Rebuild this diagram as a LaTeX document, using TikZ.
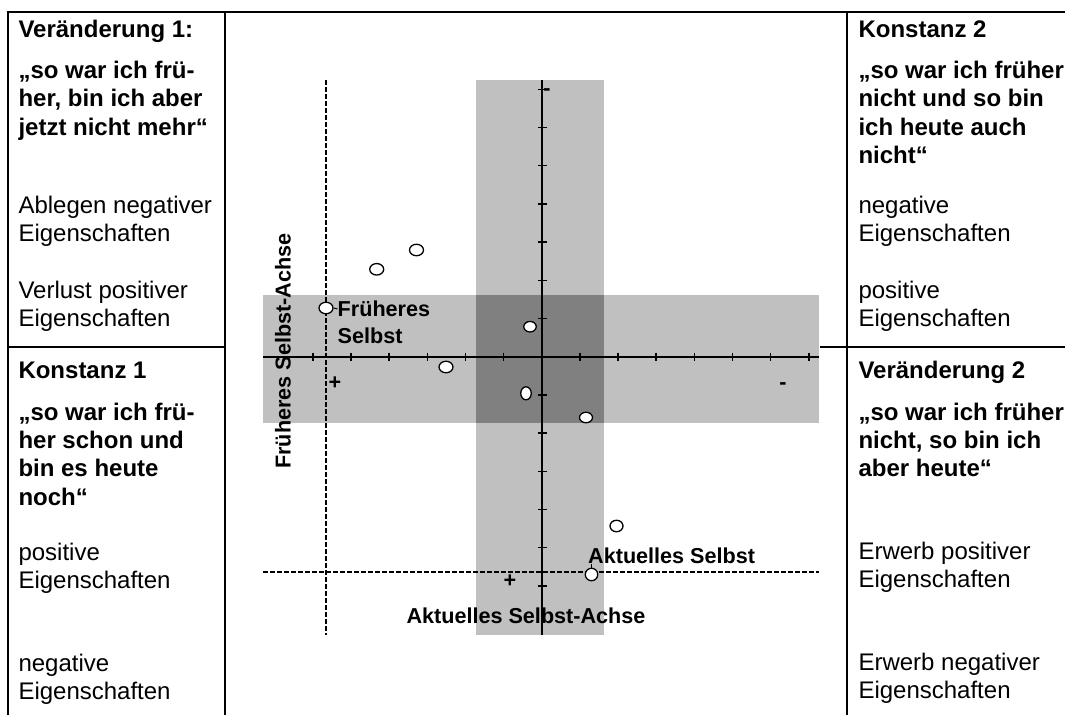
\documentclass[tikz,border=0pt]{standalone}
\usepackage{fontspec}
\setmainfont{Liberation Sans}
\usetikzlibrary{shapes.geometric}
\definecolor{lgray}{HTML}{C0C0C0}
\definecolor{dgray}{HTML}{808080}
\begin{document}
\begin{tikzpicture}[x=1pt,y=-1pt,
  sideb/.style={font=\fontsize{24}{28}\selectfont\bfseries, anchor=base west, inner sep=0pt},
  sider/.style={font=\fontsize{24}{28}\selectfont, anchor=base west, inner sep=0pt},
  lab/.style={font=\fontsize{21.6}{26}\selectfont\bfseries, inner sep=0pt},
  tablerule/.style={line width=2pt},
  axisline/.style={line width=2pt},
  tickline/.style={line width=1.5pt},
  dashline/.style={line width=1.2pt, dash pattern=on 4.5pt off 2.5pt},
  pt/.style={ellipse, draw, fill=white, line width=1.3pt, minimum width=14pt, minimum height=11.5pt, inner sep=0pt},
  ptv/.style={pt, minimum width=10.5pt, minimum height=13pt},
  conn/.style={line width=1pt}
]
\useasboundingbox (0,0) rectangle (1065,715);
% table
\draw[tablerule] (8,715) -- (8,12) -- (1065,12);
\draw[tablerule] (225,12) -- (225,715);
\draw[tablerule] (847,12) -- (847,715);
\draw[tablerule] (8,347) -- (225,347);
\draw[tablerule] (820,347) -- (1065,347);
% left column
\node[sideb] (l1) at (18.3,37) {Veränderung 1:};
\node[sideb] (l2) at (18.3,78.5) {„so war ich frü-};
\node[sideb] (l3) at (18.3,106.8) {her, bin ich aber};
\node[sideb] (l4) at (18.3,135) {jetzt nicht mehr“};
\node[sider] (l5) at (18.3,213.3) {Ablegen negativer};
\node[sider] (l6) at (18.3,241.7) {Eigenschaften};
\node[sider] (l7) at (18.3,298.3) {Verlust positiver};
\node[sider] (l8) at (18.3,326.7) {Eigenschaften};
\node[sideb] (m1) at (18.3,378) {Konstanz 1};
\node[sideb] (m2) at (18.3,420) {„so war ich frü-};
\node[sideb] (m3) at (18.3,448.3) {her schon und};
\node[sideb] (m4) at (18.3,476.6) {bin es heute};
\node[sideb] (m5) at (18.3,505) {noch“};
\node[sider] (m6) at (18.3,560) {positive};
\node[sider] (m7) at (18.3,588.5) {Eigenschaften};
\node[sider] (m8) at (18.3,671) {negative};
\node[sider] (m9) at (18.3,699.3) {Eigenschaften};
% right column
\node[sideb] (r1) at (858.3,37) {Konstanz 2};
\node[sideb] (r2) at (858.3,78.5) {„so war ich früher};
\node[sideb] (r3) at (858.3,106.8) {nicht und so bin};
\node[sideb] (r4) at (858.3,135) {ich heute auch};
\node[sideb] (r5) at (858.3,163.3) {nicht“};
\node[sider] (r6) at (858.3,213.3) {negative};
\node[sider] (r7) at (858.3,241.7) {Eigenschaften};
\node[sider] (r8) at (858.3,298.3) {positive};
\node[sider] (r9) at (858.3,326.7) {Eigenschaften};
\node[sideb] (s1) at (858.3,378) {Veränderung 2};
\node[sideb] (s2) at (858.3,420) {„so war ich früher};
\node[sideb] (s3) at (858.3,448.3) {nicht, so bin ich};
\node[sideb] (s4) at (858.3,476.6) {aber heute“};
\node[sider] (s5) at (858.3,559) {Erwerb positiver};
\node[sider] (s6) at (858.3,587.5) {Eigenschaften};
\node[sider] (s7) at (858.3,670) {Erwerb negativer};
\node[sider] (s8) at (858.3,698.5) {Eigenschaften};
% gray bands
\fill[lgray] (476,80) rectangle (604,635);
\fill[lgray] (263,295) rectangle (819,423);
\fill[dgray] (476,295) rectangle (604,423);
% dashed reference lines
\draw[dashline] (326,80) -- (326,635);
\draw[dashline] (263,572) -- (819,572);
% axes
\draw[axisline] (263,356.7) -- (819,356.7);
\draw[axisline] (541.7,80) -- (541.7,635);
\foreach \k in {-6,...,7} \draw[tickline] ({541.7+\k*38.15},352.7) -- ++(0,8);
\foreach \k in {-7,...,6} \draw[tickline] (537.5,{356.7+\k*38.2}) -- ++(9,0);
% signs
\node[lab] (plusl) at (335,383) {+};
\node[lab] (plusb) at (510,581.5) {+};
\node[lab] (minust) at (547,92) {-};
\node[lab] (minusr) at (783,386) {-};
% axis labels
\node[lab, rotate=90] (fsa) at (283,351) {Früheres Selbst-Achse};
\node[lab, anchor=base] (asa) at (526,623.3) {Aktuelles Selbst-Achse};
% points
\node[pt] (p1) at (326,308) {};
\node[pt] (p2) at (376.7,269.3) {};
\node[pt] (p3) at (416.5,250) {};
\node[pt] (p4) at (446,367) {};
\node[pt, minimum width=12.5pt, minimum height=10.5pt] (p5) at (530,326.7) {};
\node[ptv] (p6) at (526,393.3) {};
\node[pt, minimum width=13pt, minimum height=10.5pt] (p7) at (586,417.5) {};
\node[pt, minimum width=13pt, minimum height=11.5pt] (p8) at (616.5,526) {};
\node[pt, minimum width=12.5pt, minimum height=12.5pt] (p9) at (591.5,574.5) {};
% point labels
\node[lab, anchor=base west] (fs1) at (337.5,316.7) {Früheres};
\node[lab, anchor=base west] (fs2) at (337.5,343.3) {Selbst};
\node[lab, anchor=base west] (as) at (588,563.3) {Aktuelles Selbst};
\draw[conn] (p1.east) -- (fs1.west);
\draw[conn] (p9.north) -- (p9.north |- as.south);
\end{tikzpicture}
\end{document}
